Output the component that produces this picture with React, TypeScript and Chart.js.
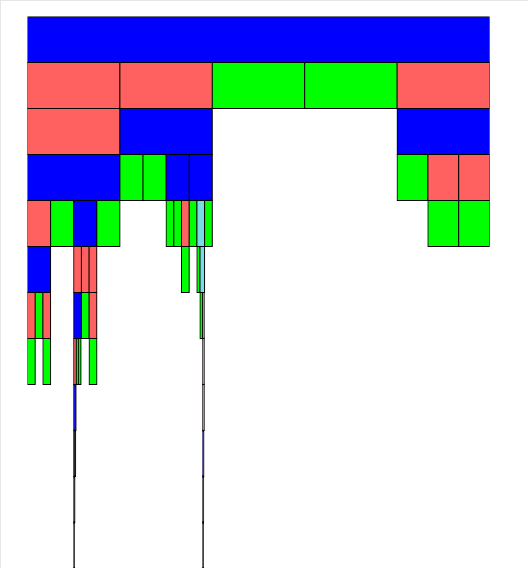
import React, { useEffect, useRef } from "react";
import { Chart, registerables } from "chart.js";

Chart.register(...registerables);

const RED = "#FF6060";
const GREEN = "#00FF00";
const BLUE = "#0000FF";
const CYAN = "#76DDE2";
const DARK = "#111111";

// Hierarchy (icicle / partition): parent index, value, colour
const nodeParents = [
  -1, 0, 0, 0, 0, 0, // 0-5
  1, 2, 5, // 6-8
  6, 7, 7, 7, 7, 8, 8, 8, // 9-16
  9, 9, 9, 9, 12, 12, 12, 13, 13, 13, 15, 16, // 17-28
  17, 19, 19, 19, 23, 25, 25, // 29-35
  29, 29, 29, 30, 31, 32, 35, 35, // 36-43
  36, 38, 39, 39, 39, 41, 43, // 44-50
  46, 50, // 51-52
  51, 52, // 53-54
  53, 54, // 55-56
  55, 56, // 57-58
];
const nodeValues = [
  60, 12, 12, 12, 12, 12,
  12, 12, 12,
  12, 3, 3, 3, 3, 4, 4, 4,
  3, 3, 3, 3, 1, 1, 1, 1, 1, 1, 4, 4,
  3, 1, 1, 1, 1, 0.4, 0.6,
  1, 1, 1, 1, 1, 1, 0.35, 0.2,
  1, 1, 0.34, 0.26, 0.34, 1, 0.2,
  0.3, 0.2,
  0.25, 0.15,
  0.15, 0.12,
  0.1, 0.1,
];
const nodeColors = [
  BLUE, RED, RED, GREEN, GREEN, RED,
  RED, BLUE, BLUE,
  BLUE, GREEN, GREEN, BLUE, BLUE, GREEN, RED, RED,
  RED, GREEN, BLUE, GREEN, GREEN, GREEN, RED, GREEN, CYAN, GREEN, GREEN, GREEN,
  BLUE, RED, RED, RED, GREEN, GREEN, CYAN,
  RED, GREEN, RED, BLUE, GREEN, RED, GREEN, RED,
  GREEN, GREEN, RED, GREEN, GREEN, GREEN, RED,
  BLUE, RED,
  DARK, BLUE,
  DARK, DARK,
  DARK, DARK,
];
const levelLabels = ["L0", "L1", "L2", "L3", "L4", "L5", "L6", "L7", "L8", "L9", "L10", "L11"];

function layout() {
  const n = nodeParents.length;
  const x0: number[] = new Array(n).fill(0);
  const depth: number[] = new Array(n).fill(0);
  const cursor: number[] = new Array(n).fill(0);
  for (let i = 0; i < n; i++) {
    const p = nodeParents[i];
    if (p < 0) {
      x0[i] = 0;
      depth[i] = 0;
    } else {
      depth[i] = depth[p] + 1;
      x0[i] = x0[p] + cursor[p];
      cursor[p] += nodeValues[i];
    }
  }
  return nodeValues.map((v, i) => ({ y: levelLabels[depth[i]], x: [x0[i], x0[i] + v] }));
}

const shadowPlugin = {
  id: "barShadow",
  beforeDatasetsDraw(chart: any) {
    const ctx = chart.ctx;
    ctx.save();
    ctx.shadowColor = "rgba(0,0,0,0.45)";
    ctx.shadowBlur = 2;
    ctx.shadowOffsetX = 1;
    ctx.shadowOffsetY = 1;
  },
  afterDatasetsDraw(chart: any) {
    chart.ctx.restore();
  },
};

export default function App() {
  const ref = useRef<HTMLCanvasElement | null>(null);
  useEffect(() => {
    if (!ref.current) return;
    const chart = new Chart(ref.current, {
      type: "bar",
      data: {
        labels: levelLabels,
        datasets: [
          {
            data: layout() as any,
            backgroundColor: nodeColors,
            borderColor: "#000000",
            borderWidth: 1,
            borderSkipped: false,
            inflateAmount: 0.5,
            barPercentage: 1,
            categoryPercentage: 1,
            grouped: false,
          } as any,
        ],
      },
      options: {
        indexAxis: "y",
        responsive: false,
        animation: false,
        layout: { padding: { left: 26.5, right: 39.5, top: 15.5, bottom: 0.5 } },
        plugins: { legend: { display: false }, tooltip: { enabled: false } },
        scales: {
          x: { type: "linear", min: 0, max: 60, display: false },
          y: { type: "category", display: false },
        },
      },
      plugins: [shadowPlugin],
    });
    return () => chart.destroy();
  }, []);
  return (
    <div
      style={{
        position: "fixed",
        top: 0,
        left: 0,
        width: 560,
        height: 600,
        borderTop: "1px solid #e6e6e6",
        borderLeft: "1px solid #e6e6e6",
        background: "#fff",
      }}
    >
      <canvas ref={ref} width={528} height={568} style={{ display: "block" }} />
    </div>
  );
}
